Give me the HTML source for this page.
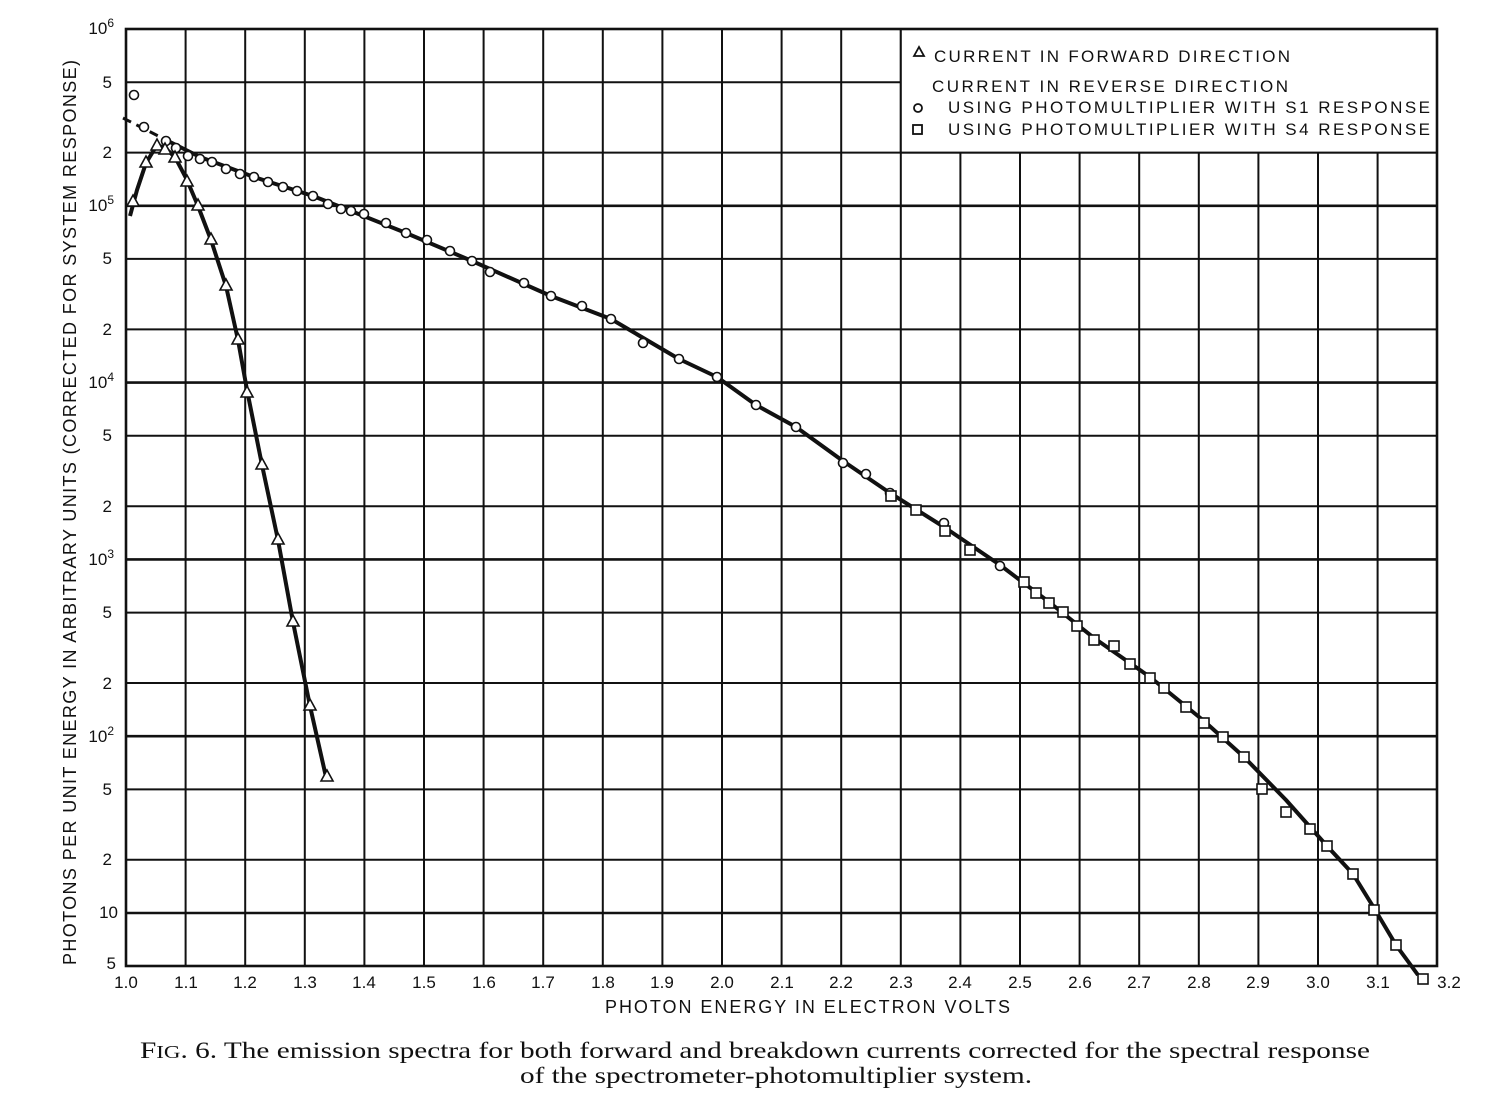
<!DOCTYPE html>
<html><head><meta charset="utf-8"><style>
html,body{margin:0;padding:0;background:#fff;}
svg{display:block;}
</style></head><body>
<svg width="1496" height="1106" viewBox="0 0 1496 1106" xmlns="http://www.w3.org/2000/svg">
<rect width="1496" height="1106" fill="#fff"/>
<g stroke="#111" stroke-width="2" fill="none">
<path d="M185.6 29V966M245.2 29V966M304.8 29V966M364.4 29V966M424 29V966M483.6 29V966M543.2 29V966M602.8 29V966M662.4 29V966M722 29V966M781.6 29V966M841.2 29V966M900.8 29V966M960.4 29V966M1020 29V966M1079.6 29V966M1139.2 29V966M1198.8 29V966M1258.4 29V966M1318 29V966M1377.6 29V966"/>
<path d="M126 82.2H1437M126 152.6H1437M126 258.9H1437M126 329.4H1437M126 435.8H1437M126 506.2H1437M126 612.6H1437M126 683H1437M126 789.4H1437M126 859.8H1437"/>
<path stroke-width="2.6" d="M126 205.8H1437M126 382.6H1437M126 559.4H1437M126 736.2H1437M126 913H1437"/>
<rect x="900.8" y="29" width="536.2" height="123.6" fill="#fff"/>
<rect x="126" y="29" width="1311" height="937" stroke-width="2.6"/>
</g>
<g font-family="Liberation Sans, sans-serif" font-size="17" fill="#111">
<text x="934" y="62" textLength="356" lengthAdjust="spacing">CURRENT IN FORWARD DIRECTION</text>
<text x="932" y="92" textLength="356" lengthAdjust="spacing">CURRENT IN REVERSE DIRECTION</text>
<text x="948" y="113" textLength="482" lengthAdjust="spacing">USING PHOTOMULTIPLIER WITH S1 RESPONSE</text>
<text x="948" y="135" textLength="482" lengthAdjust="spacing">USING PHOTOMULTIPLIER WITH S4 RESPONSE</text>
</g>
<g stroke="#111" stroke-width="1.8" fill="none">
<path d="M914 56l5 -9 5 9z"/>
<circle cx="918" cy="108" r="4"/>
<rect x="913" y="125" width="9" height="9"/>
</g>
<g font-family="Liberation Sans, sans-serif" font-size="17" fill="#111" text-anchor="end">
<text x="114" y="34">10<tspan font-size="12" dy="-7">6</tspan></text>
<text x="112" y="88">5</text><text x="112" y="158">2</text>
<text x="114" y="211">10<tspan font-size="12" dy="-7">5</tspan></text>
<text x="112" y="264">5</text><text x="112" y="335">2</text>
<text x="114" y="388">10<tspan font-size="12" dy="-7">4</tspan></text>
<text x="112" y="441">5</text><text x="112" y="512">2</text>
<text x="114" y="565">10<tspan font-size="12" dy="-7">3</tspan></text>
<text x="112" y="618">5</text><text x="112" y="689">2</text>
<text x="114" y="742">10<tspan font-size="12" dy="-7">2</tspan></text>
<text x="112" y="795">5</text><text x="112" y="865">2</text>
<text x="118" y="918">10</text>
<text x="116" y="969">5</text>
</g>
<g font-family="Liberation Sans, sans-serif" font-size="17" fill="#111" text-anchor="middle">
<text x="126" y="988">1.0</text><text x="186" y="988">1.1</text><text x="245" y="988">1.2</text><text x="305" y="988">1.3</text><text x="364" y="988">1.4</text><text x="424" y="988">1.5</text><text x="484" y="988">1.6</text><text x="543" y="988">1.7</text><text x="603" y="988">1.8</text><text x="662" y="988">1.9</text><text x="722" y="988">2.0</text><text x="782" y="988">2.1</text><text x="841" y="988">2.2</text><text x="901" y="988">2.3</text><text x="960" y="988">2.4</text><text x="1020" y="988">2.5</text><text x="1080" y="988">2.6</text><text x="1139" y="988">2.7</text><text x="1199" y="988">2.8</text><text x="1258" y="988">2.9</text><text x="1318" y="988">3.0</text><text x="1378" y="988">3.1</text><text x="1449" y="988">3.2</text>
</g>
<text x="605" y="1013" font-family="Liberation Sans, sans-serif" font-size="18" textLength="405" lengthAdjust="spacing" fill="#111">PHOTON ENERGY IN ELECTRON VOLTS</text>
<text transform="translate(76 965) rotate(-90)" font-family="Liberation Sans, sans-serif" font-size="18" textLength="905" lengthAdjust="spacing" fill="#111">PHOTONS PER UNIT ENERGY IN ARBITRARY UNITS (CORRECTED FOR SYSTEM RESPONSE)</text>
<g font-family="Liberation Serif, serif" font-size="23" fill="#111">
<text x="140" y="1058" textLength="1230" lengthAdjust="spacingAndGlyphs">F<tspan font-size="18">IG</tspan>. 6. The emission spectra for both forward and breakdown currents corrected for the spectral response</text>
<text x="520" y="1083" textLength="512" lengthAdjust="spacingAndGlyphs">of the spectrometer-photomultiplier system.</text>
</g>
<g stroke="#111" fill="none" stroke-linejoin="round">
<path stroke-width="3" stroke-dasharray="9 6" d="M123 118L170 142"/>
<path stroke-width="4" d="M170 142L200 157L254 177L313 196L351 211L406 233L472 261L551 296L611 319L679 359L717 377L756 405L796 427L843 461L890 493L944 527L1000 565L1049 602L1094 638L1150 677L1204 721L1244 757L1286 800L1327 846L1353 874L1374 908L1396 945L1418 975"/>
<path stroke-width="4" d="M130 216L137 190L146 163L157 145L165 148L175 157L187 180L198 206L211 240L226 286L238 340L247 390L262 465L278 540L293 622L310 706L326 777"/>
</g>
<g stroke="#111" stroke-width="1.6" fill="#fff">
<g>
<circle cx="134" cy="95" r="4.5"/><circle cx="144" cy="127" r="4.5"/><circle cx="166" cy="141" r="4.5"/><circle cx="176" cy="148" r="4.5"/><circle cx="188" cy="156" r="4.5"/><circle cx="200" cy="159" r="4.5"/><circle cx="212" cy="162" r="4.5"/><circle cx="226" cy="169" r="4.5"/><circle cx="240" cy="174" r="4.5"/><circle cx="254" cy="177" r="4.5"/><circle cx="268" cy="182" r="4.5"/><circle cx="283" cy="187" r="4.5"/><circle cx="297" cy="191" r="4.5"/><circle cx="313" cy="196" r="4.5"/><circle cx="328" cy="204" r="4.5"/><circle cx="341" cy="209" r="4.5"/><circle cx="351" cy="211" r="4.5"/><circle cx="364" cy="214" r="4.5"/><circle cx="386" cy="223" r="4.5"/><circle cx="406" cy="233" r="4.5"/><circle cx="427" cy="240" r="4.5"/><circle cx="450" cy="251" r="4.5"/><circle cx="472" cy="261" r="4.5"/><circle cx="490" cy="272" r="4.5"/><circle cx="524" cy="283" r="4.5"/><circle cx="551" cy="296" r="4.5"/><circle cx="582" cy="306" r="4.5"/><circle cx="611" cy="319" r="4.5"/><circle cx="643" cy="343" r="4.5"/><circle cx="679" cy="359" r="4.5"/><circle cx="717" cy="377" r="4.5"/><circle cx="756" cy="405" r="4.5"/><circle cx="796" cy="427" r="4.5"/><circle cx="843" cy="463" r="4.5"/><circle cx="866" cy="474" r="4.5"/><circle cx="890" cy="493" r="4.5"/><circle cx="944" cy="523" r="4.5"/><circle cx="970" cy="549" r="4.5"/><circle cx="1000" cy="566" r="4.5"/>
</g>
<g>
<rect x="886" y="491" width="10" height="10"/><rect x="911" y="505" width="10" height="10"/><rect x="940" y="526" width="10" height="10"/><rect x="965" y="545" width="10" height="10"/><rect x="1019" y="577" width="10" height="10"/><rect x="1031" y="588" width="10" height="10"/><rect x="1044" y="598" width="10" height="10"/><rect x="1058" y="607" width="10" height="10"/><rect x="1072" y="621" width="10" height="10"/><rect x="1089" y="635" width="10" height="10"/><rect x="1109" y="641" width="10" height="10"/><rect x="1125" y="659" width="10" height="10"/><rect x="1145" y="673" width="10" height="10"/><rect x="1159" y="683" width="10" height="10"/><rect x="1181" y="702" width="10" height="10"/><rect x="1199" y="718" width="10" height="10"/><rect x="1218" y="732" width="10" height="10"/><rect x="1239" y="752" width="10" height="10"/><rect x="1257" y="784" width="10" height="10"/><rect x="1281" y="807" width="10" height="10"/><rect x="1305" y="824" width="10" height="10"/><rect x="1322" y="841" width="10" height="10"/><rect x="1348" y="869" width="10" height="10"/><rect x="1369" y="905" width="10" height="10"/><rect x="1391" y="940" width="10" height="10"/><rect x="1418" y="974" width="10" height="10"/>
</g>
<g>
<path d="M127 206l6-11 6 11z"/><path d="M140 167l6-11 6 11z"/><path d="M151 150l6-11 6 11z"/><path d="M159 154l6-11 6 11z"/><path d="M169 162l6-11 6 11z"/><path d="M181 186l6-11 6 11z"/><path d="M192 210l6-11 6 11z"/><path d="M205 244l6-11 6 11z"/><path d="M220 290l6-11 6 11z"/><path d="M232 344l6-11 6 11z"/><path d="M241 397l6-11 6 11z"/><path d="M256 469l6-11 6 11z"/><path d="M272 544l6-11 6 11z"/><path d="M287 626l6-11 6 11z"/><path d="M304 710l6-11 6 11z"/><path d="M321 781l6-11 6 11z"/>
</g>
</g>
</svg>
</body></html>
